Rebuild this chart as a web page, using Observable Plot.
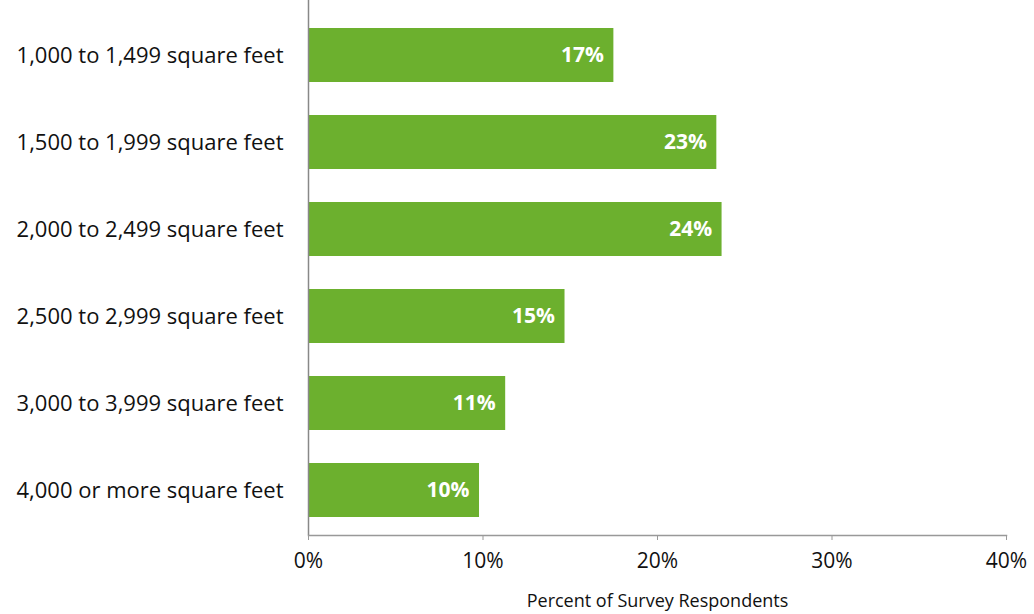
<!DOCTYPE html>
<html>
<head>
<meta charset="utf-8">
<script src="https://cdn.jsdelivr.net/npm/d3@7"></script>
<script src="https://cdn.jsdelivr.net/npm/@observablehq/plot@0.6"></script>
<style>
  html, body { margin: 0; padding: 0; background: #fff; }
  #chart svg { display: block; }
</style>
</head>
<body>
<div id="chart"></div>
<script>
const categories = [
  "1,000 to 1,499 square feet",
  "1,500 to 1,999 square feet",
  "2,000 to 2,499 square feet",
  "2,500 to 2,999 square feet",
  "3,000 to 3,999 square feet",
  "4,000 or more square feet"
];
const values = [17.5, 23.4, 23.7, 14.7, 11.3, 9.8];
const labels = ["17%", "23%", "24%", "15%", "11%", "10%"];
const xTicks = [0, 10, 20, 30, 40];

const data = categories.map((c, i) => ({category: c, value: values[i], label: labels[i]}));
const font = "'Open Sans', Lato, sans-serif";

const chart = Plot.plot({
  width: 1034,
  height: 614,
  marginLeft: 308,
  marginRight: 28,
  marginTop: 9,
  marginBottom: 79,
  style: {fontFamily: font, fontSize: "21px", color: "#111", background: "#fff"},
  x: {domain: [0, 40], ticks: xTicks},
  y: {domain: categories, paddingInner: 0.38, paddingOuter: 0.19},
  marks: [
    Plot.barX(data, {x: "value", y: "category", fill: "#6cb02e"}),
    Plot.text(data, {x: "value", y: "category", text: "label", textAnchor: "end", dx: -10,
      fill: "#fff", fontWeight: "bold", fontSize: 21}),
    Plot.ruleX([0], {stroke: "#888", strokeWidth: 1.5, insetTop: -9}),
    Plot.frame({anchor: "bottom", stroke: "#999", strokeWidth: 1.5}),
    Plot.axisY({tickSize: 0, tickPadding: 25, label: null, fontSize: 22}),
    Plot.axisX({ticks: xTicks, tickSize: 5, tickPadding: 13, stroke: "#999",
      tickFormat: d => d + "%", fontSize: 21, label: null}),
    Plot.axisX({ticks: [], tickSize: 0, fontSize: 18,
      label: "Percent of Survey Respondents", labelAnchor: "center", labelArrow: "none",
      labelOffset: 71})
  ]
});
document.getElementById("chart").appendChild(chart);
</script>
</body>
</html>
